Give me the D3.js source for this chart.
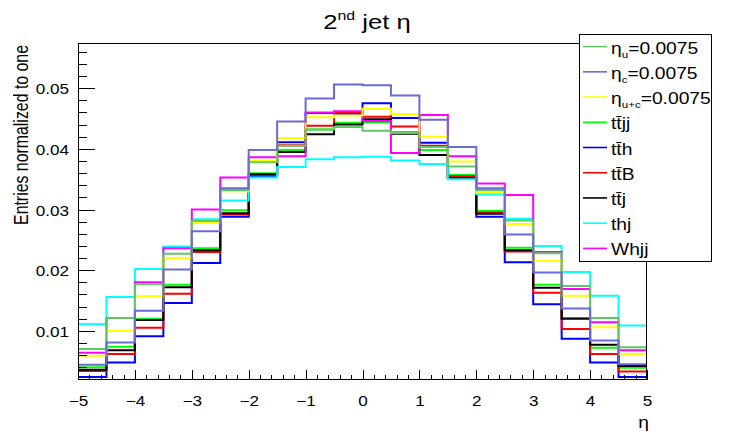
<!DOCTYPE html>
<html><head><meta charset="utf-8">
<script src="https://cdn.jsdelivr.net/npm/d3@7"></script>
<style>
body{margin:0;background:#fff}
text{font-family:"Liberation Sans",Arial,Helvetica,sans-serif;fill:#000}
</style>
</head><body>
<svg id="chart" width="749" height="434"></svg>
<script>
// ---- data ----
const binEdges = [-5,-4.5,-4,-3.5,-3,-2.5,-2,-1.5,-1,-0.5,0,0.5,1,1.5,2,2.5,3,3.5,4,4.5,5];
const xTickValues = [-5,-4,-3,-2,-1,0,1,2,3,4,5];
const yTickValues = [0.01,0.02,0.03,0.04,0.05];
const seriesLabels = ["η_{u}=0.0075","η_{c}=0.0075","η_{u+c}=0.0075","tt̄jj","tt̄h","tt̄B","tt̄j","thj","Whjj"];
const seriesColors = ["#62c662","#6a6ad8","#ffff00","#00ff00","#0000ff","#ff0000","#000000","#00ffff","#ff00ff"];
const etaU  = [0.0070,0.0121,0.0177,0.0227,0.0281,0.0332,0.0378,0.0405,0.0432,0.0436,0.0430,0.0426,0.0403,0.0371,0.0332,0.0282,0.0228,0.0174,0.0121,0.0073];
const etaC  = [0.0044,0.0081,0.0133,0.0201,0.0264,0.0335,0.0398,0.0445,0.0483,0.0506,0.0505,0.0488,0.0448,0.0403,0.0335,0.0259,0.0196,0.0137,0.0084,0.0045];
const etaUC = [0.0059,0.0100,0.0157,0.0220,0.0278,0.0330,0.0381,0.0418,0.0452,0.0455,0.0466,0.0457,0.0420,0.0379,0.0328,0.0276,0.0215,0.0158,0.0106,0.0062];
const ttjj  = [0.0040,0.0074,0.0120,0.0176,0.0236,0.0299,0.0360,0.0398,0.0432,0.0443,0.0444,0.0428,0.0398,0.0357,0.0298,0.0237,0.0176,0.0121,0.0072,0.0039];
const tth   = [0.0024,0.0048,0.0091,0.0146,0.0212,0.0288,0.0355,0.0411,0.0459,0.0458,0.0475,0.0451,0.0410,0.0353,0.0288,0.0213,0.0144,0.0087,0.0048,0.0024];
const ttB   = [0.0034,0.0062,0.0105,0.0161,0.0230,0.0292,0.0357,0.0406,0.0438,0.0460,0.0453,0.0437,0.0405,0.0355,0.0295,0.0231,0.0163,0.0103,0.0062,0.0033];
const ttj   = [0.0036,0.0068,0.0118,0.0172,0.0233,0.0294,0.0358,0.0395,0.0424,0.0440,0.0449,0.0425,0.0390,0.0352,0.0293,0.0233,0.0171,0.0120,0.0077,0.0042];
const thj   = [0.0111,0.0156,0.0202,0.0239,0.0284,0.0315,0.0353,0.0370,0.0383,0.0386,0.0387,0.0381,0.0375,0.0350,0.0325,0.0285,0.0240,0.0197,0.0158,0.0109];
const whjj  = [0.0064,0.0121,0.0180,0.0236,0.0300,0.0353,0.0386,0.0388,0.0460,0.0462,0.0446,0.0393,0.0456,0.0388,0.0343,0.0324,0.0230,0.0169,0.0114,0.0068];
const seriesValues = [etaU, etaC, etaUC, ttjj, tth, ttB, ttj, thj, whjj];
const drawOrder = [3,4,5,6,7,8,2,0,1];

// ---- layout ----
const svg = d3.select("#chart");
const X0 = 78, X1 = 647, Y0 = 380, Y1 = 43;
const SX = 1.07, SY = 0.868; // text aspect
const yMin = 0.0019, yMax = 0.05745;
const x = d3.scaleLinear().domain([-5,5]).range([X0, X1]);
const y = d3.scaleLinear().domain([yMin, yMax]).range([Y0, Y1]);

function richText(sel, str, size){
  const re = /([_^])\{([^}]*)\}/g;
  let last = 0, m, shift = 0;
  const parts = [];
  while((m = re.exec(str))){
    if(m.index > last) parts.push({t:str.slice(last,m.index), k:0});
    parts.push({t:m[2], k: m[1]==="_" ? 1 : -1});
    last = re.lastIndex;
  }
  if(last < str.length) parts.push({t:str.slice(last), k:0});
  parts.forEach(p=>{
    const ts = sel.append("tspan").text(p.t);
    let target = 0;
    if(p.k===1){ ts.style("font-size", (size*0.6)+"px"); target = size*0.28; }
    if(p.k===-1){ ts.style("font-size", (size*0.62)+"px"); target = -size*0.42; }
    const d = target - shift;
    if(d!==0) ts.attr("dy", d);
    shift = target;
  });
}
function label(px, py, str, size, anchor, rot){
  const g = svg.append("g").attr("transform", `translate(${px},${py}) scale(${SX},${SY})` + (rot?` rotate(${rot})`:""));
  const t = g.append("text").attr("text-anchor", anchor||"start").style("font-size", size+"px");
  richText(t, str, size);
  return t;
}

// ---- histograms ----
svg.append("defs").append("clipPath").attr("id","frameClip")
  .append("rect").attr("x",X0).attr("y",Y1).attr("width",X1-X0).attr("height",Y0-Y1);
const line = d3.line().x(d=>x(d[0])).y(d=>y(d[1])).curve(d3.curveStepAfter);
const plot = svg.append("g").attr("clip-path","url(#frameClip)");
drawOrder.forEach(i=>{
  const vals = seriesValues[i];
  const pts = [[binEdges[0], yMin]];
  vals.forEach((v,j)=>pts.push([binEdges[j], v]));
  pts.push([binEdges[binEdges.length-1], vals[vals.length-1]]);
  pts.push([binEdges[binEdges.length-1], yMin]);
  plot.append("path").attr("d", line(pts)).attr("fill","none")
    .attr("stroke", seriesColors[i]).attr("stroke-width",2);
});

// ---- axes ----
const yMinor = d3.range(2, 57, 2).map(v=>v/1000).filter(v=>v>yMin && v<yMax && Math.round(v*1000)%10!==0);
const gyMinor = svg.append("g").attr("transform",`translate(${X0},0)`)
  .call(d3.axisLeft(y).tickValues(yMinor).tickSize(-8.5).tickFormat(""));
const gy = svg.append("g").attr("transform",`translate(${X0},0)`)
  .call(d3.axisLeft(y).tickValues(yTickValues).tickSize(-17).tickPadding(9).tickFormat(d3.format(".2f")));
const xMinor = d3.range(-50, 51, 2).map(v=>v/10).filter(v=>Math.abs(v-Math.round(v))>1e-6);
const gxMinor = svg.append("g").attr("transform",`translate(0,${Y0})`)
  .call(d3.axisBottom(x).tickValues(xMinor).tickSize(-5).tickFormat(""));
const gx = svg.append("g").attr("transform",`translate(0,${Y0})`)
  .call(d3.axisBottom(x).tickValues(xTickValues).tickSize(-10).tickPadding(8).tickFormat(d3.format("d")));
[gyMinor,gy,gxMinor,gx].forEach(g=>{
  g.select(".domain").remove();
  g.selectAll("line").attr("stroke","#000").attr("stroke-width",1).attr("shape-rendering","crispEdges");
});
gy.selectAll("text").attr("x",null).attr("dy",null).attr("text-anchor","end")
  .attr("transform",`translate(-9,5.5) scale(${SX},${SY})`)
  .style("font-size","16px").style("font-family",'"Liberation Sans",Arial,sans-serif');
gx.selectAll("text").attr("y",null).attr("dy",null).attr("text-anchor","middle")
  .attr("transform",`translate(0,26) scale(${SX},${SY})`)
  .style("font-size","16px").style("font-family",'"Liberation Sans",Arial,sans-serif');

// frame
svg.append("rect").attr("x",X0+0.5).attr("y",Y1+0.5).attr("width",X1-X0-1).attr("height",Y0-Y1-1)
  .attr("fill","none").attr("stroke","#000").attr("stroke-width",1);

// ---- texts ----
label(367, 29, "2^{nd} jet η", 24, "middle");
label(28, 45, "Entries normalized to one", 18.3, "end", -90);
label(649, 428, "η", 18, "end");

// ---- legend ----
const LX0 = 579, LY0 = 34, LX1 = 711, LY1 = 261;
svg.append("rect").attr("x",LX0+0.5).attr("y",LY0+0.5).attr("width",LX1-LX0).attr("height",LY1-LY0)
  .attr("fill","#fff").attr("stroke","#000").attr("stroke-width",1);
const rowH = (LY1-LY0)/seriesLabels.length;
seriesLabels.forEach((lab,i)=>{
  const cy = LY0 + rowH*(i+0.5);
  svg.append("line").attr("x1",583).attr("x2",607).attr("y1",cy).attr("y2",cy)
    .attr("stroke",seriesColors[i]).attr("stroke-width",1.6);
  label(611, cy+7, lab, 18, "start");
});
</script>
</body></html>
